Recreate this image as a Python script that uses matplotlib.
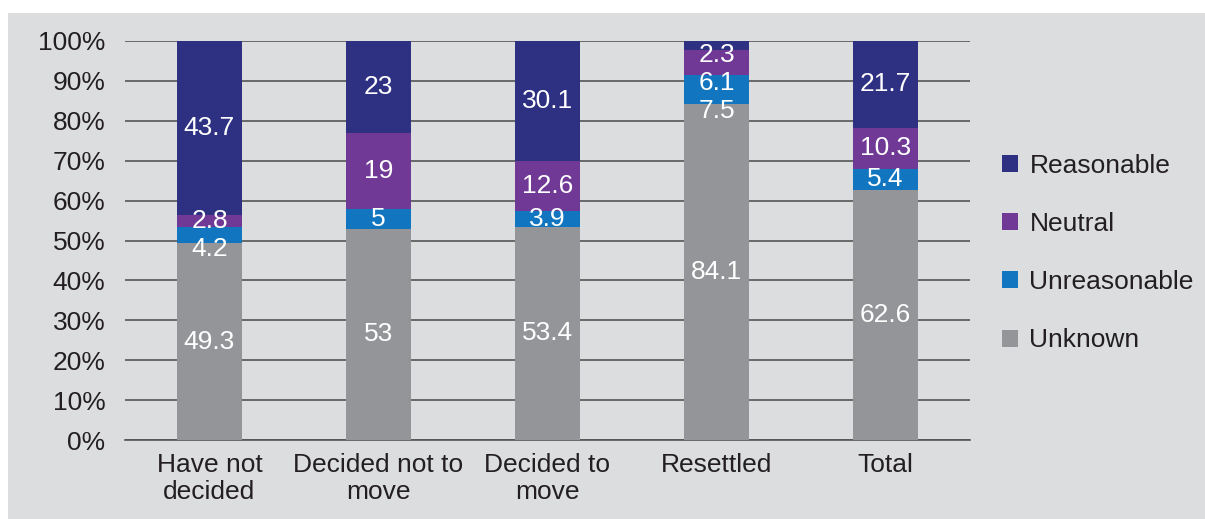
import numpy as np
import matplotlib
matplotlib.use("Agg")
import matplotlib.pyplot as plt
from matplotlib.patches import Rectangle, Patch

plt.rcParams['font.family'] = ['Liberation Sans', 'DejaVu Sans']

categories = ["Have not\ndecided", "Decided not to\nmove", "Decided to\nmove", "Resettled", "Total"]
unknown = [49.3, 53, 53.4, 84.1, 62.6]
unreasonable = [4.2, 5, 3.9, 7.5, 5.4]
neutral = [2.8, 19, 12.6, 6.1, 10.3]
reasonable = [43.7, 23, 30.1, 2.3, 21.7]

series = [
    ("Unknown", unknown, "#939598"),
    ("Unreasonable", unreasonable, "#1176bf"),
    ("Neutral", neutral, "#703996"),
    ("Reasonable", reasonable, "#2e3082"),
]

bg = "#dcdddf"
fig = plt.figure(figsize=(12.05, 5.19), dpi=100)
fig.patch.set_facecolor("white")
fig.patches.append(Rectangle((8 / 1205, 0), 1, 1 - 13 / 519, transform=fig.transFigure,
                             facecolor=bg, edgecolor="none", zorder=-10))

ax = fig.add_axes([125 / 1205, 1 - 440 / 519, 845 / 1205, 399 / 519])
ax.set_facecolor(bg)

x = np.arange(len(categories))
bottom = np.zeros(len(categories))
label_pos = []  # (x, centre y, value) per series
for name, vals, col in series:
    vals = np.array(vals, dtype=float)
    ax.bar(x, vals, 0.385, bottom=bottom, color=col, zorder=3, label=name)
    label_pos.append(list(zip(x, bottom + vals / 2, vals)))
    bottom += vals

# push labels apart from the top down, so small segments don't collide
gap = 7.0
for i in range(len(categories)):
    limit = 96.5
    for s in reversed(range(len(series))):
        xi, y, v = label_pos[s][i]
        y = min(y, limit)
        ax.text(xi, y, f"{v:g}", ha="center", va="center", color="white", fontsize=19, zorder=4)
        limit = y - gap

ax.set_xlim(-0.5, len(categories) - 0.5)
ax.set_ylim(0, 100)
ax.set_yticks(np.arange(0, 101, 10))
ax.set_yticklabels([f"{t}%" for t in range(0, 101, 10)])
ax.set_xticks(x)
ax.set_xticklabels(categories)
ax.tick_params(axis="y", length=0, pad=14, labelsize=19, colors="#231f20")
ax.tick_params(axis="x", length=0, pad=9, labelsize=19, colors="#231f20")
ax.grid(axis="y", color="#555555", linewidth=1.2, zorder=0)
for s in ["top", "right", "left"]:
    ax.spines[s].set_visible(False)
ax.spines["bottom"].set_color("#555555")
ax.spines["bottom"].set_linewidth(1.2)

handles = [Patch(facecolor=col, label=name) for name, _, col in series][::-1]
fig.legend(handles=handles, loc="center left", bbox_to_anchor=(978 / 1205, 1 - 253 / 519),
           frameon=False, fontsize=19, handlelength=0.6, handleheight=0.6,
           handletextpad=0.45, labelspacing=1.3, labelcolor="#231f20")

fig.savefig("out.png", dpi=100, facecolor=fig.get_facecolor())
